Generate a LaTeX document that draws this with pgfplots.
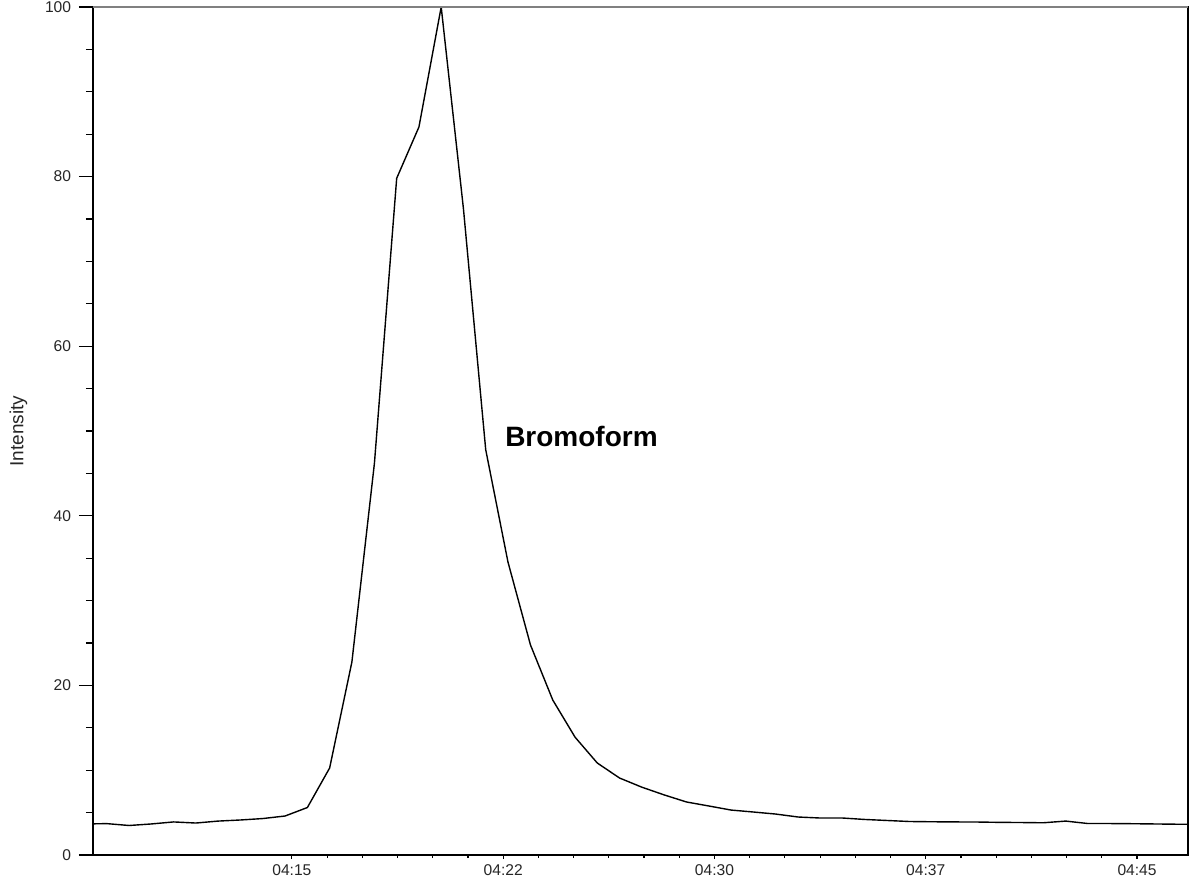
\documentclass[border=0pt]{standalone}
\usepackage{fontspec}
\setmainfont{Liberation Sans}
\usepackage{pgfplots}
\pgfplotsset{compat=1.18}
\usetikzlibrary{calc}

% one reference pixel = 0.5pt
\pgfplotstableread{
t       i
247.63  3.66
248.43  3.70
249.22  3.48
250.01  3.66
250.80  3.90
251.59  3.77
252.38  4.00
253.18  4.13
253.97  4.30
254.76  4.60
255.55  5.60
256.34  10.26
257.13  22.76
257.93  46.20
258.72  79.80
259.51  85.85
260.30  100.00
261.09  76.20
261.88  47.80
262.67  34.55
263.47  24.76
264.26  18.28
265.05  13.90
265.84  10.85
266.63  9.08
267.42  8.00
268.22  7.08
269.01  6.25
269.80  5.78
270.59  5.30
271.38  5.07
272.17  4.83
272.97  4.48
273.76  4.36
274.55  4.36
275.34  4.19
276.13  4.07
276.92  3.95
277.72  3.92
278.51  3.90
279.30  3.89
280.09  3.85
280.88  3.83
281.67  3.80
282.47  4.00
283.26  3.71
284.05  3.71
284.84  3.69
285.63  3.66
286.42  3.63
287.22  3.62
}\bromoform

\begin{document}
\begin{tikzpicture}
\begin{axis}[
    scale only axis,
    width=547.5pt,
    height=424pt,
    xmin=247.94, xmax=286.81,
    ymin=0, ymax=100,
    axis line style={black, line width=0.7pt},
    tick align=outside,
    xtick pos=bottom,
    ytick pos=left,
    xtick={255,262.5,270,277.5,285},
    xticklabels={04:15,04:22,04:30,04:37,04:45},
    minor x tick num=5,
    ytick={0,20,40,60,80,100},
    minor y tick num=3,
    xtick style={black, line width=0.6pt, /pgfplots/major tick length=2pt, /pgfplots/minor tick length=1.5pt},
    ytick style={black, line width=0.6pt, /pgfplots/major tick length=7pt, /pgfplots/minor tick length=3.5pt},
    tick label style={font=\fontsize{7.8}{9}\selectfont, text=black!85},
    /pgf/number format/assume math mode=true,
    yticklabel style={inner sep=0.5pt, xshift=-6pt},
    xticklabel style={inner sep=0pt, yshift=-0.5pt},
    ylabel={Intensity},
    ylabel style={at={(rel axis cs:-0.068,0.5)}, anchor=center, font=\fontsize{9.5}{11}\selectfont, text=black!85},
]
\addplot[black, line width=0.7pt, no markers] table[x=t, y=i] {\bromoform};
\node[anchor=west, inner sep=0pt, font=\fontsize{14}{16}\selectfont\bfseries] at (axis cs:262.56,49.4) {Bromoform};
\draw[gray, line width=1pt] (rel axis cs:0,1) -- (rel axis cs:1,1);
\coordinate (sw) at (rel axis cs:0,0);
\coordinate (ne) at (rel axis cs:1,1);
\end{axis}
\pgfresetboundingbox
\path[use as bounding box] ($(sw)+(-46.5pt,-13.5pt)$) rectangle ($(ne)+(1.5pt,3.5pt)$);
\end{tikzpicture}
\end{document}
